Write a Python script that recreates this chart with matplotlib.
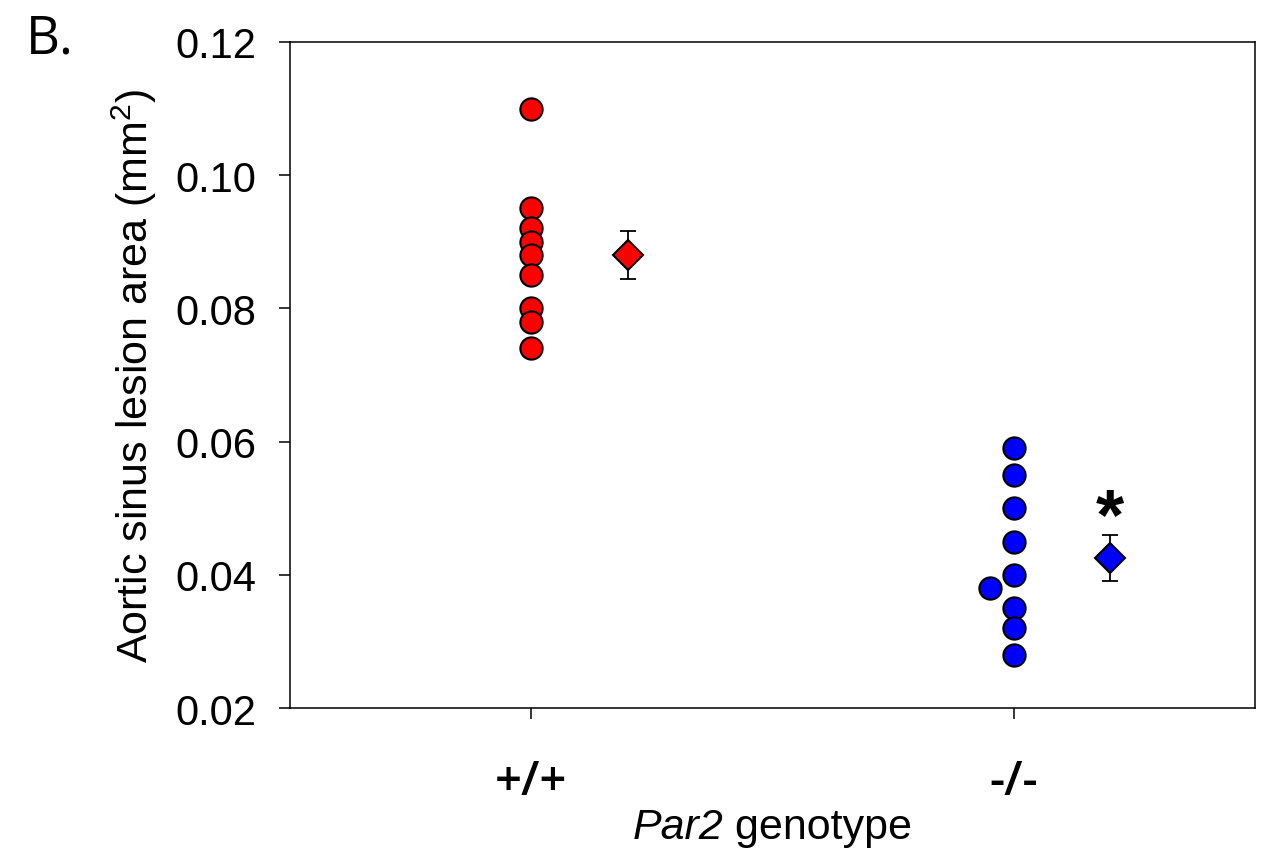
import matplotlib
matplotlib.use("Agg")
import matplotlib.pyplot as plt
from matplotlib.offsetbox import TextArea, HPacker, AnchoredOffsetbox

plt.rcParams['font.family'] = ['Liberation Sans', 'DejaVu Sans']
plt.rcParams['mathtext.fontset'] = 'custom'
plt.rcParams['mathtext.rm'] = 'Liberation Sans'
plt.rcParams['mathtext.it'] = 'Liberation Sans:italic'

# valores
groups = ["+/+", "-/-"]
wt_x = [1, 1, 1, 1, 1, 1, 1, 1, 1]
wt_vals = [0.110, 0.095, 0.092, 0.090, 0.088, 0.085, 0.080, 0.078, 0.074]
ko_x = [2, 2, 2, 2, 2, 1.95, 2, 2, 2]
ko_vals = [0.059, 0.055, 0.050, 0.045, 0.040, 0.038, 0.035, 0.032, 0.028]
mean_x = [1.2, 2.2]
means = [0.088, 0.0425]
sems = [0.0036, 0.0035]
colors = ["#ff0000", "#0000ff"]

fig = plt.figure(figsize=(12.71, 8.53), dpi=100)
ax = fig.add_axes([0.2282, 0.1688, 0.7592, 0.7808])

ax.plot(wt_x, wt_vals, 'o', ms=16, mfc=colors[0], mec='black', mew=1.5, zorder=3, clip_on=False)
ax.plot(ko_x, ko_vals, 'o', ms=16, mfc=colors[1], mec='black', mew=1.5, zorder=3, clip_on=False)

for i in range(2):
    ax.errorbar(mean_x[i], means[i], yerr=sems[i], fmt='none', ecolor='black',
                elinewidth=1.3, capsize=6, capthick=1.3, zorder=2)
    ax.plot(mean_x[i], means[i], 'D', ms=15, mfc=colors[i], mec='black', mew=1.5, zorder=4)

ax.text(mean_x[1], 0.0483, "*", ha='center', va='center', fontsize=52, fontweight='bold')

ax.set_xlim(0.5, 2.5)
ax.set_ylim(0.02, 0.12)
ax.set_yticks([0.02, 0.04, 0.06, 0.08, 0.10, 0.12])
ax.set_yticklabels(["0.02", "0.04", "0.06", "0.08", "0.10", "0.12"], fontsize=30)
ax.set_xticks([1, 2])
ax.set_xticklabels(groups, fontsize=34, fontweight='semibold', family=['Open Sans', 'DejaVu Sans'])
ax.tick_params(axis='both', direction='out', length=8, width=1.1)
ax.tick_params(axis='y', pad=16)
ax.tick_params(axis='x', pad=28)
for s in ax.spines.values():
    s.set_linewidth(1.1)

ax.set_ylabel("Aortic sinus lesion area (mm$^2$)", fontsize=31, labelpad=12)

# etiqueta x: Par2 en cursiva, centrada bajo el eje
xlab = HPacker(children=[TextArea("Par2", textprops=dict(fontsize=31, style='italic')),
                         TextArea(" genotype", textprops=dict(fontsize=31))],
               align='baseline', pad=0, sep=0)
box = AnchoredOffsetbox(loc='center', child=xlab, frameon=False, pad=0,
                        bbox_to_anchor=(0.5, -0.1785), bbox_transform=ax.transAxes)
box.set_clip_on(False)
ax.add_artist(box)

fig.text(0.02, 0.985, "B.", fontsize=38, va='top', ha='left', family=['Open Sans', 'DejaVu Sans'])

fig.savefig("out.png", dpi=100)
